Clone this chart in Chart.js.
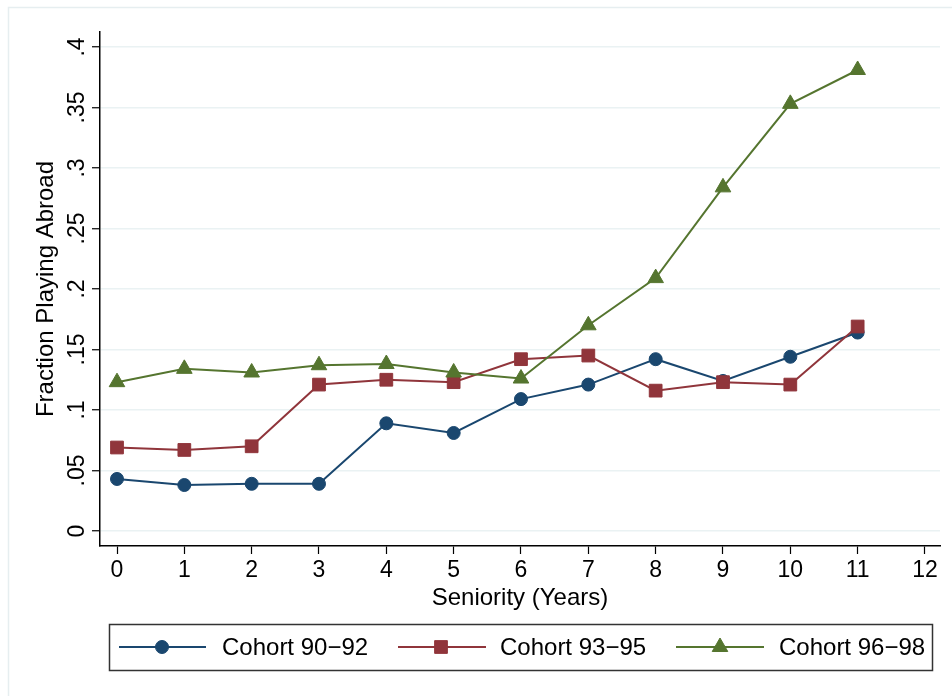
<!DOCTYPE html>
<html><head><meta charset="utf-8">
<script src="https://cdn.jsdelivr.net/npm/chart.js@4.4.1/dist/chart.umd.min.js"></script>
<style>html,body{margin:0;padding:0;background:#fff;}#wrap{position:relative;width:952px;height:696px;}</style>
</head><body><div id="wrap"><canvas id="c" width="952" height="696"></canvas></div>
<script>
const seniority = [0,1,2,3,4,5,6,7,8,9,10,11];
const cohort9092 = [0.043,0.038,0.039,0.039,0.089,0.081,0.109,0.121,0.142,0.124,0.144,0.164];
const cohort9395 = [0.069,0.067,0.070,0.121,0.125,0.123,0.142,0.145,0.116,0.123,0.121,0.169];
const cohort9698 = [0.123,0.134,0.131,0.137,0.138,0.131,0.126,0.170,0.209,0.284,0.353,0.381];
const xTicks = [0,1,2,3,4,5,6,7,8,9,10,11,12];
const yTicks = [0,0.05,0.1,0.15,0.2,0.25,0.3,0.35,0.4];
const seriesNames = ['Cohort 90\u221292','Cohort 93\u221295','Cohort 96\u221298'];
const xTitle = 'Seniority (Years)';
const yTitle = 'Fraction Playing Abroad';

const colors = ['#1a476f','#90353b','#55752f'];
const styles = ['circle','rect','triangle'];
const radii = [6.5,9,9];
const FONT = '"Liberation Sans", Arial, Helvetica, sans-serif';

function yLabel(v){ if (Math.abs(v) < 1e-9) return '0'; return String(+v.toFixed(3)).replace(/^0\./,'.'); }

const ds = [cohort9092, cohort9395, cohort9698].map((arr,i)=>({
  label: seriesNames[i],
  data: seniority.map((x,j)=>({x:x,y:arr[j]})),
  borderColor: colors[i], backgroundColor: colors[i],
  pointBackgroundColor: colors[i], pointBorderColor: colors[i],
  pointStyle: styles[i], pointRadius: radii[i], pointBorderWidth: 1,
  borderWidth: 2, tension: 0, order: 2 - i
}));

const framePlugin = {
  id: 'frame',
  beforeDraw(chart){
    const ctx = chart.ctx;
    ctx.save();
    ctx.fillStyle = '#fff'; ctx.fillRect(0,0,chart.width,chart.height);
    ctx.strokeStyle = '#e6eef0'; ctx.lineWidth = 1.5;
    ctx.strokeRect(8.5, 7.5, 2000, 2000);
    ctx.restore();
  },
  afterDraw(chart){
    const ctx = chart.ctx;
    const ys = chart.scales.y;
    ctx.save();
    ctx.fillStyle = '#000';
    ctx.font = '23px ' + FONT;
    ctx.textAlign = 'center';
    ctx.textBaseline = 'alphabetic';
    yTicks.forEach(v=>{
      const py = ys.getPixelForValue(v);
      ctx.save();
      ctx.translate(84, py);
      ctx.rotate(-Math.PI/2);
      ctx.fillText(yLabel(v), 0, 0);
      ctx.restore();
    });
    // legend
    ctx.strokeStyle = '#333'; ctx.lineWidth = 1.5;
    ctx.strokeRect(109.5, 624.5, 823, 46);
    const items = [{l:119,r:206,m:162,t:222},{l:398,r:486,m:441,t:500},{l:676,r:764,m:720,t:779}];
    const ly = 647;
    items.forEach((it,i)=>{
      ctx.strokeStyle = colors[i]; ctx.lineWidth = 2;
      ctx.beginPath(); ctx.moveTo(it.l, ly); ctx.lineTo(it.r, ly); ctx.stroke();
      ctx.fillStyle = colors[i]; ctx.strokeStyle = colors[i]; ctx.lineWidth = 1;
      Chart.helpers.drawPoint(ctx, {pointStyle: styles[i], radius: radii[i], rotation: 0, borderWidth: 1}, it.m, ly);
      ctx.fillStyle = '#000';
      ctx.font = '24px ' + FONT;
      ctx.textAlign = 'left'; ctx.textBaseline = 'middle';
      ctx.fillText(seriesNames[i], it.t, ly + 1);
    });
    ctx.restore();
  }
};

new Chart(document.getElementById('c'), {
  type: 'line',
  data: { datasets: ds },
  plugins: [framePlugin],
  options: {
    responsive: false, animation: false, devicePixelRatio: 1,
    layout: { padding: { left: 0, right: 12, top: 32, bottom: 70 } },
    plugins: { legend: { display: false }, tooltip: { enabled: false }, title: { display: false } },
    scales: {
      x: {
        type: 'linear', min: -0.2525, max: 12.223,
        afterBuildTicks(s){ s.ticks = xTicks.map(v=>({value:v})); },
        afterFit(s){ s.height = 80; },
        ticks: { color: '#000', font: { family: FONT, size: 23 }, padding: 3, maxRotation: 0, autoSkip: false, callback: v => String(v) },
        grid: { drawOnChartArea: false, drawTicks: true, tickLength: 8, tickColor: '#000', tickWidth: 1.2 },
        border: { display: true, color: '#000', width: 1.5 },
        title: { display: true, text: xTitle, color: '#000', font: { family: FONT, size: 24 }, padding: { top: 0, bottom: 13 } }
      },
      y: {
        type: 'linear', min: -0.0124, max: 0.4124,
        afterBuildTicks(s){ s.ticks = yTicks.map(v=>({value:v})); },
        afterFit(s){ s.width = 100; },
        ticks: { display: false },
        grid: { color: '#eaf2f3', lineWidth: 1.5, drawTicks: true, tickLength: 8, tickColor: '#000', tickWidth: 1.2 },
        border: { display: true, color: '#000', width: 1.5 },
        title: { display: true, text: yTitle, color: '#000', font: { family: FONT, size: 24 }, padding: { top: 32, bottom: 0 } }
      }
    }
  }
});
</script></body></html>
